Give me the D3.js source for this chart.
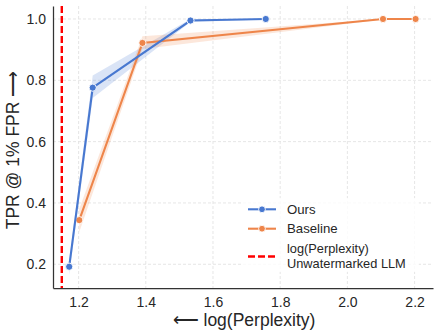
<!DOCTYPE html>
<html><head><meta charset="utf-8">
<script src="https://cdn.jsdelivr.net/npm/d3@7"></script>
<style>body{margin:0;background:#fff}svg{display:block}text{font-family:"Liberation Sans",Arial,sans-serif;fill:#262626}</style>
</head><body>
<svg id="c" width="439" height="336"></svg>
<script>
// Data
const oursX = [1.172, 1.242, 1.533, 1.757];
const oursY = [0.192, 0.776, 0.995, 1.0];
const oursLo = [0.165, 0.742, 0.99, 0.998];
const oursHi = [0.212, 0.816, 1.0, 1.0];
const baseX = [1.202, 1.39, 2.106, 2.203];
const baseY = [0.344, 0.922, 1.0, 1.0];
const baseLo = [0.305, 0.902, 0.998, 0.998];
const baseHi = [0.38, 0.944, 1.0, 1.0];
const refX = 1.15;
const xTicks = [1.2, 1.4, 1.6, 1.8, 2.0, 2.2];
const yTicks = [0.2, 0.4, 0.6, 0.8, 1.0];
const legendLabels = ["Ours", "Baseline", ["log(Perplexity)", "Unwatermarked LLM"]];

const blue = "#4878d0", orange = "#ee854a";
const svg = d3.select("#c");
const L = 53, R = 433, T = 6, B = 288;
const x = d3.scaleLinear().domain([1.1238, 2.2548]).range([L, R]);
const y = d3.scaleLinear().domain([0.1226, 1.0424]).range([B, T]);

// grid
const g = svg.append("g");
g.selectAll(".vg").data(xTicks).join("line")
  .attr("x1", d => x(d)).attr("x2", d => x(d)).attr("y1", T).attr("y2", B)
  .attr("stroke", "#e3e3e3").attr("stroke-width", 0.9).attr("stroke-dasharray", "3,2");
g.selectAll(".hg").data(yTicks).join("line")
  .attr("y1", d => y(d)).attr("y2", d => y(d)).attr("x1", L).attr("x2", R)
  .attr("stroke", "#e3e3e3").attr("stroke-width", 0.9).attr("stroke-dasharray", "3,2");

// axes
const xa = svg.append("g").attr("transform", `translate(0,${B})`)
  .call(d3.axisBottom(x).tickValues(xTicks).tickFormat(d3.format(".1f")).tickSize(0).tickPadding(9));
const ya = svg.append("g").attr("transform", `translate(${L},0)`)
  .call(d3.axisLeft(y).tickValues(yTicks).tickFormat(d3.format(".1f")).tickSize(0).tickPadding(7));
[xa, ya].forEach(a => {
  a.select(".domain").attr("stroke", "#333").attr("stroke-width", 1.25);
  a.selectAll("text").attr("font-size", 14).attr("fill", "#262626")
    .attr("font-family", '"Liberation Sans",Arial,sans-serif');
});

// bands
function band(xs, lo, hi, col) {
  const idx = d3.range(xs.length);
  svg.append("path").datum(idx)
    .attr("d", d3.area().x(i => x(xs[i])).y0(i => y(lo[i])).y1(i => y(hi[i])))
    .attr("fill", col).attr("fill-opacity", 0.2).attr("stroke", "none");
}
band(oursX, oursLo, oursHi, blue);
band(baseX, baseLo, baseHi, orange);

// reference line
svg.append("line").attr("x1", x(refX)).attr("x2", x(refX)).attr("y1", T).attr("y2", B)
  .attr("stroke", "#ff0000").attr("stroke-width", 2.4).attr("stroke-dasharray", "7,3");

function series(xs, ys, col) {
  const idx = d3.range(xs.length);
  svg.append("path").datum(idx)
    .attr("d", d3.line().x(i => x(xs[i])).y(i => y(ys[i])))
    .attr("fill", "none").attr("stroke", col).attr("stroke-width", 2.1);
  svg.append("g").selectAll("circle").data(idx).join("circle")
    .attr("cx", i => x(xs[i])).attr("cy", i => y(ys[i])).attr("r", 3.6)
    .attr("fill", col).attr("stroke", "#fff").attr("stroke-width", 0.9);
}
series(baseX, baseY, orange);
series(oursX, oursY, blue);

// axis labels
svg.append("text").attr("x", 244).attr("y", 326).attr("text-anchor", "middle")
  .attr("font-size", 17.5).text("\u27F5 log(Perplexity)");
svg.append("text").attr("transform", "translate(19,150) rotate(-90)").attr("text-anchor", "middle")
  .attr("font-size", 17.5).text("TPR @ 1% FPR \u27F6");

// legend
const lg = svg.append("g");
lg.append("rect").attr("x", 243).attr("y", 198).attr("width", 176).attr("height", 74)
  .attr("fill", "#fff").attr("fill-opacity", 0.8);
const lx1 = 248, lx2 = 276, tx = 287;
[[209.3, blue], [228.7, orange]].forEach(([yy, c], i) => {
  lg.append("line").attr("x1", lx1).attr("x2", lx2).attr("y1", yy).attr("y2", yy)
    .attr("stroke", c).attr("stroke-width", 2.1);
  lg.append("circle").attr("cx", (lx1 + lx2) / 2).attr("cy", yy).attr("r", 3.4)
    .attr("fill", c).attr("stroke", "#fff").attr("stroke-width", 0.9);
  lg.append("text").attr("x", tx).attr("y", yy).attr("dy", "0.36em").attr("font-size", 13.2).text(legendLabels[i]);
});
lg.append("line").attr("x1", lx1).attr("x2", lx2).attr("y1", 256.5).attr("y2", 256.5)
  .attr("stroke", "#ff0000").attr("stroke-width", 2.4).attr("stroke-dasharray", "7,3");
legendLabels[2].forEach((t, k) => {
  lg.append("text").attr("x", tx).attr("y", 249 + k * 14.6).attr("dy", "0.34em").attr("font-size", 12.8).text(t);
});
</script>
</body></html>
